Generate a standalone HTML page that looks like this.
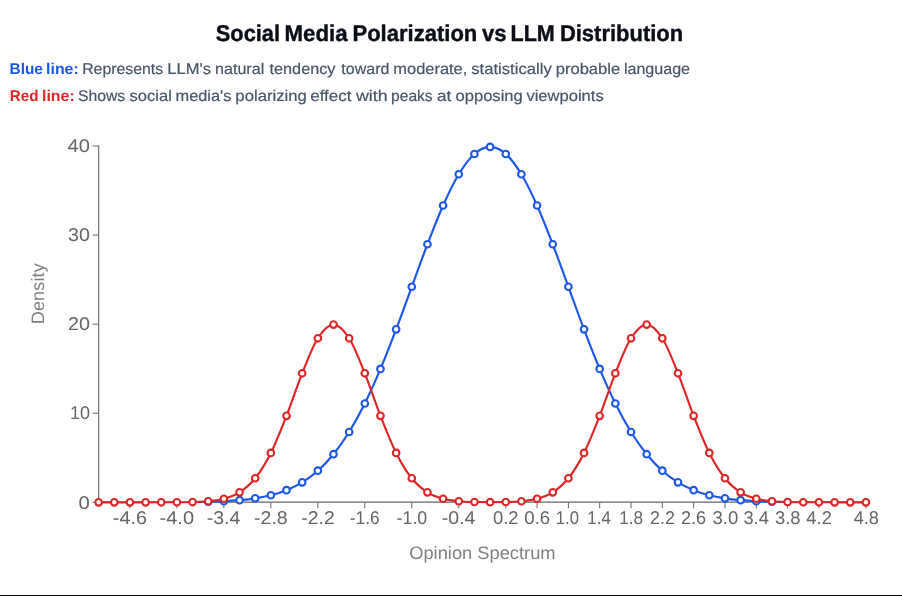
<!DOCTYPE html>
<html><head><meta charset="utf-8"><title>Social Media Polarization vs LLM Distribution</title>
<style>
html,body{margin:0;padding:0;background:#fff;}
body{width:902px;height:596px;overflow:hidden;position:relative;font-family:"Liberation Sans",sans-serif;}
svg{position:absolute;left:0;top:0;will-change:transform;}
text{font-family:"Liberation Sans",sans-serif;text-rendering:geometricPrecision;}
.ttl{font-size:22.75px;font-weight:bold;fill:#0b0d17;stroke:#0b0d17;stroke-width:0.4px;}
.lb{font-size:15.5px;font-weight:bold;}
.lt{font-size:15.5px;fill:#475467;stroke:#475467;stroke-width:0.2px;}
.tk{font-size:18.5px;fill:#666;}
.al{font-size:18px;fill:#808080;}
.bar{position:absolute;left:0;top:595px;width:902px;height:1px;background:#000;}
</style></head>
<body>
<svg width="902" height="596" viewBox="0 0 902 596">
<text x="215.84" y="40.6" class="ttl" textLength="64.13" lengthAdjust="spacingAndGlyphs">Social</text><text x="284.59" y="40.6" class="ttl" textLength="63.08" lengthAdjust="spacingAndGlyphs">Media</text><text x="352.48" y="40.6" class="ttl" textLength="124.86" lengthAdjust="spacingAndGlyphs">Polarization</text><text x="482.03" y="40.6" class="ttl" textLength="24.62" lengthAdjust="spacingAndGlyphs">vs</text><text x="510.59" y="40.6" class="ttl" textLength="44.20" lengthAdjust="spacingAndGlyphs">LLM</text><text x="559.89" y="40.6" class="ttl" textLength="123.31" lengthAdjust="spacingAndGlyphs">Distribution</text>
<text x="9.52" y="73.8" class="lb" fill="#1c58e7" textLength="33.41" lengthAdjust="spacingAndGlyphs">Blue</text><text x="46.09" y="73.8" class="lb" fill="#1c58e7" textLength="32.67" lengthAdjust="spacingAndGlyphs">line:</text>
<text x="82.18" y="73.8" class="lt" textLength="80.88" lengthAdjust="spacingAndGlyphs">Represents</text><text x="167.36" y="73.8" class="lt" textLength="43.73" lengthAdjust="spacingAndGlyphs">LLM's</text><text x="215.05" y="73.8" class="lt" textLength="49.17" lengthAdjust="spacingAndGlyphs">natural</text><text x="269.54" y="73.8" class="lt" textLength="65.94" lengthAdjust="spacingAndGlyphs">tendency</text><text x="341.38" y="73.8" class="lt" textLength="48.03" lengthAdjust="spacingAndGlyphs">toward</text><text x="393.39" y="73.8" class="lt" textLength="73.93" lengthAdjust="spacingAndGlyphs">moderate,</text><text x="471.17" y="73.8" class="lt" textLength="80.72" lengthAdjust="spacingAndGlyphs">statistically</text><text x="555.74" y="73.8" class="lt" textLength="64.39" lengthAdjust="spacingAndGlyphs">probable</text><text x="623.93" y="73.8" class="lt" textLength="66.14" lengthAdjust="spacingAndGlyphs">language</text>
<text x="9.84" y="100.6" class="lb" fill="#dc2626" textLength="28.72" lengthAdjust="spacingAndGlyphs">Red</text><text x="41.97" y="100.6" class="lb" fill="#dc2626" textLength="32.79" lengthAdjust="spacingAndGlyphs">line:</text>
<text x="77.90" y="100.6" class="lt" textLength="47.33" lengthAdjust="spacingAndGlyphs">Shows</text><text x="129.58" y="100.6" class="lt" textLength="42.25" lengthAdjust="spacingAndGlyphs">social</text><text x="175.52" y="100.6" class="lt" textLength="55.92" lengthAdjust="spacingAndGlyphs">media's</text><text x="235.35" y="100.6" class="lt" textLength="71.59" lengthAdjust="spacingAndGlyphs">polarizing</text><text x="310.31" y="100.6" class="lt" textLength="41.08" lengthAdjust="spacingAndGlyphs">effect</text><text x="355.98" y="100.6" class="lt" textLength="31.71" lengthAdjust="spacingAndGlyphs">with</text><text x="391.09" y="100.6" class="lt" textLength="41.57" lengthAdjust="spacingAndGlyphs">peaks</text><text x="437.06" y="100.6" class="lt" textLength="14.16" lengthAdjust="spacingAndGlyphs">at</text><text x="455.45" y="100.6" class="lt" textLength="67.38" lengthAdjust="spacingAndGlyphs">opposing</text><text x="526.40" y="100.6" class="lt" textLength="77.28" lengthAdjust="spacingAndGlyphs">viewpoints</text>
<line x1="98.60" y1="502.1" x2="865.90" y2="502.1" stroke="#666" stroke-width="1.1"/>
<line x1="98.67" y1="145.50" x2="98.67" y2="502.1" stroke="#666" stroke-width="1.1"/>
<line x1="92.60" y1="502.30" x2="98.60" y2="502.30" stroke="#666"/>
<text x="78.54" y="508.50" class="tk" textLength="11.32" lengthAdjust="spacingAndGlyphs">0</text>
<line x1="92.60" y1="413.23" x2="98.60" y2="413.23" stroke="#666"/>
<text x="69.89" y="419.43" class="tk" textLength="20.03" lengthAdjust="spacingAndGlyphs">10</text>
<line x1="92.60" y1="324.15" x2="98.60" y2="324.15" stroke="#666"/>
<text x="68.03" y="330.35" class="tk" textLength="21.92" lengthAdjust="spacingAndGlyphs">20</text>
<line x1="92.60" y1="235.07" x2="98.60" y2="235.07" stroke="#666"/>
<text x="68.03" y="241.27" class="tk" textLength="21.79" lengthAdjust="spacingAndGlyphs">30</text>
<line x1="92.60" y1="146.00" x2="98.60" y2="146.00" stroke="#666"/>
<text x="67.47" y="152.20" class="tk" textLength="22.33" lengthAdjust="spacingAndGlyphs">40</text>
<line x1="129.92" y1="502.30" x2="129.92" y2="508.30" stroke="#666"/>
<text x="112.84" y="523.90" class="tk" textLength="34.17" lengthAdjust="spacingAndGlyphs">-4.6</text>
<line x1="176.90" y1="502.30" x2="176.90" y2="508.30" stroke="#666"/>
<text x="159.54" y="523.90" class="tk" textLength="34.50" lengthAdjust="spacingAndGlyphs">-4.0</text>
<line x1="223.87" y1="502.30" x2="223.87" y2="508.30" stroke="#666"/>
<text x="206.71" y="523.90" class="tk" textLength="33.71" lengthAdjust="spacingAndGlyphs">-3.4</text>
<line x1="270.85" y1="502.30" x2="270.85" y2="508.30" stroke="#666"/>
<text x="254.05" y="523.90" class="tk" textLength="33.63" lengthAdjust="spacingAndGlyphs">-2.8</text>
<line x1="317.83" y1="502.30" x2="317.83" y2="508.30" stroke="#666"/>
<text x="301.27" y="523.90" class="tk" textLength="33.52" lengthAdjust="spacingAndGlyphs">-2.2</text>
<line x1="364.81" y1="502.30" x2="364.81" y2="508.30" stroke="#666"/>
<text x="349.76" y="523.90" class="tk" textLength="29.88" lengthAdjust="spacingAndGlyphs">-1.6</text>
<line x1="411.78" y1="502.30" x2="411.78" y2="508.30" stroke="#666"/>
<text x="396.57" y="523.90" class="tk" textLength="30.69" lengthAdjust="spacingAndGlyphs">-1.0</text>
<line x1="458.76" y1="502.30" x2="458.76" y2="508.30" stroke="#666"/>
<text x="441.71" y="523.90" class="tk" textLength="33.71" lengthAdjust="spacingAndGlyphs">-0.4</text>
<line x1="505.74" y1="502.30" x2="505.74" y2="508.30" stroke="#666"/>
<text x="493.01" y="523.90" class="tk" textLength="25.56" lengthAdjust="spacingAndGlyphs">0.2</text>
<line x1="537.06" y1="502.30" x2="537.06" y2="508.30" stroke="#666"/>
<text x="524.27" y="523.90" class="tk" textLength="25.92" lengthAdjust="spacingAndGlyphs">0.6</text>
<line x1="568.38" y1="502.30" x2="568.38" y2="508.30" stroke="#666"/>
<text x="555.76" y="523.90" class="tk" textLength="23.29" lengthAdjust="spacingAndGlyphs">1.0</text>
<line x1="599.69" y1="502.30" x2="599.69" y2="508.30" stroke="#666"/>
<text x="587.33" y="523.90" class="tk" textLength="23.51" lengthAdjust="spacingAndGlyphs">1.4</text>
<line x1="631.01" y1="502.30" x2="631.01" y2="508.30" stroke="#666"/>
<text x="619.31" y="523.90" class="tk" textLength="23.80" lengthAdjust="spacingAndGlyphs">1.8</text>
<line x1="662.33" y1="502.30" x2="662.33" y2="508.30" stroke="#666"/>
<text x="649.98" y="523.90" class="tk" textLength="24.90" lengthAdjust="spacingAndGlyphs">2.2</text>
<line x1="693.65" y1="502.30" x2="693.65" y2="508.30" stroke="#666"/>
<text x="680.98" y="523.90" class="tk" textLength="25.22" lengthAdjust="spacingAndGlyphs">2.6</text>
<line x1="724.97" y1="502.30" x2="724.97" y2="508.30" stroke="#666"/>
<text x="712.48" y="523.90" class="tk" textLength="25.78" lengthAdjust="spacingAndGlyphs">3.0</text>
<line x1="756.29" y1="502.30" x2="756.29" y2="508.30" stroke="#666"/>
<text x="743.41" y="523.90" class="tk" textLength="25.45" lengthAdjust="spacingAndGlyphs">3.4</text>
<line x1="787.60" y1="502.30" x2="787.60" y2="508.30" stroke="#666"/>
<text x="775.03" y="523.90" class="tk" textLength="25.53" lengthAdjust="spacingAndGlyphs">3.8</text>
<line x1="818.92" y1="502.30" x2="818.92" y2="508.30" stroke="#666"/>
<text x="806.37" y="523.90" class="tk" textLength="25.50" lengthAdjust="spacingAndGlyphs">4.2</text>
<line x1="865.90" y1="502.30" x2="865.90" y2="508.30" stroke="#666"/>
<text x="853.71" y="523.90" class="tk" textLength="25.25" lengthAdjust="spacingAndGlyphs">4.8</text>
<text x="482.4" y="559.1" text-anchor="middle" class="al" textLength="146.4" lengthAdjust="spacingAndGlyphs">Opinion Spectrum</text>
<text transform="translate(43.8,324.2) rotate(-90)" class="al" letter-spacing="0.15">Density</text>
<clipPath id="cb"><rect x="192.56" y="0" width="595.05" height="600"/></clipPath>
<path d="M98.60,502.30C103.82,502.30,109.04,502.30,114.26,502.30C119.48,502.30,124.70,502.29,129.92,502.29C135.14,502.29,140.36,502.29,145.58,502.28C150.80,502.27,156.02,502.26,161.24,502.25C166.46,502.23,171.68,502.22,176.90,502.18C182.12,502.15,187.34,502.11,192.56,502.04C197.77,501.97,202.99,501.89,208.21,501.75C213.43,501.62,218.65,501.47,223.87,501.20C229.09,500.94,234.31,500.65,239.53,500.18C244.75,499.70,249.97,499.17,255.19,498.35C260.41,497.53,265.63,496.61,270.85,495.25C276.07,493.89,281.29,492.35,286.51,490.20C291.73,488.05,296.95,485.60,302.17,482.35C307.39,479.10,312.61,475.39,317.83,470.70C323.05,466.01,328.27,460.66,333.49,454.21C338.71,447.75,343.93,440.43,349.15,431.98C354.37,423.52,359.59,414.01,364.81,403.50C370.03,392.99,375.25,381.29,380.47,368.93C385.69,356.57,390.90,343.02,396.12,329.33C401.34,315.64,406.56,300.94,411.78,286.77C417.00,272.59,422.22,257.81,427.44,244.26C432.66,230.71,437.88,217.15,443.10,205.48C448.32,193.82,453.54,182.85,458.76,174.27C463.98,165.68,469.20,158.53,474.42,153.98C479.64,149.43,484.86,146.94,490.08,146.94C495.30,146.94,500.52,149.43,505.74,153.98C510.96,158.53,516.18,165.68,521.40,174.27C526.62,182.85,531.84,193.82,537.06,205.48C542.28,217.15,547.50,230.71,552.72,244.26C557.94,257.81,563.16,272.59,568.38,286.77C573.60,300.94,578.81,315.64,584.03,329.33C589.25,343.02,594.47,356.57,599.69,368.93C604.91,381.29,610.13,392.99,615.35,403.50C620.57,414.01,625.79,423.52,631.01,431.98C636.23,440.43,641.45,447.75,646.67,454.21C651.89,460.66,657.11,466.01,662.33,470.70C667.55,475.39,672.77,479.10,677.99,482.35C683.21,485.60,688.43,488.05,693.65,490.20C698.87,492.35,704.09,493.89,709.31,495.25C714.53,496.61,719.75,497.53,724.97,498.35C730.19,499.17,735.41,499.70,740.63,500.18C745.85,500.65,751.07,500.94,756.29,501.20C761.51,501.47,766.73,501.62,771.94,501.75C777.16,501.89,782.38,501.97,787.60,502.04C792.82,502.11,798.04,502.15,803.26,502.18C808.48,502.22,813.70,502.23,818.92,502.25C824.14,502.26,829.36,502.27,834.58,502.28C839.80,502.29,845.02,502.29,850.24,502.29C855.46,502.29,860.68,502.30,865.90,502.30" fill="none" stroke="#1c58e7" stroke-width="2.15" clip-path="url(#cb)"/>
<circle cx="208.21" cy="501.75" r="3.3" fill="#fff" stroke="#1c58e7" stroke-width="2.1"/>
<circle cx="223.87" cy="501.20" r="3.3" fill="#fff" stroke="#1c58e7" stroke-width="2.1"/>
<circle cx="239.53" cy="500.18" r="3.3" fill="#fff" stroke="#1c58e7" stroke-width="2.1"/>
<circle cx="255.19" cy="498.35" r="3.3" fill="#fff" stroke="#1c58e7" stroke-width="2.1"/>
<circle cx="270.85" cy="495.25" r="3.3" fill="#fff" stroke="#1c58e7" stroke-width="2.1"/>
<circle cx="286.51" cy="490.20" r="3.3" fill="#fff" stroke="#1c58e7" stroke-width="2.1"/>
<circle cx="302.17" cy="482.35" r="3.3" fill="#fff" stroke="#1c58e7" stroke-width="2.1"/>
<circle cx="317.83" cy="470.70" r="3.3" fill="#fff" stroke="#1c58e7" stroke-width="2.1"/>
<circle cx="333.49" cy="454.21" r="3.3" fill="#fff" stroke="#1c58e7" stroke-width="2.1"/>
<circle cx="349.15" cy="431.98" r="3.3" fill="#fff" stroke="#1c58e7" stroke-width="2.1"/>
<circle cx="364.81" cy="403.50" r="3.3" fill="#fff" stroke="#1c58e7" stroke-width="2.1"/>
<circle cx="380.47" cy="368.93" r="3.3" fill="#fff" stroke="#1c58e7" stroke-width="2.1"/>
<circle cx="396.12" cy="329.33" r="3.3" fill="#fff" stroke="#1c58e7" stroke-width="2.1"/>
<circle cx="411.78" cy="286.77" r="3.3" fill="#fff" stroke="#1c58e7" stroke-width="2.1"/>
<circle cx="427.44" cy="244.26" r="3.3" fill="#fff" stroke="#1c58e7" stroke-width="2.1"/>
<circle cx="443.10" cy="205.48" r="3.3" fill="#fff" stroke="#1c58e7" stroke-width="2.1"/>
<circle cx="458.76" cy="174.27" r="3.3" fill="#fff" stroke="#1c58e7" stroke-width="2.1"/>
<circle cx="474.42" cy="153.98" r="3.3" fill="#fff" stroke="#1c58e7" stroke-width="2.1"/>
<circle cx="490.08" cy="146.94" r="3.3" fill="#fff" stroke="#1c58e7" stroke-width="2.1"/>
<circle cx="505.74" cy="153.98" r="3.3" fill="#fff" stroke="#1c58e7" stroke-width="2.1"/>
<circle cx="521.40" cy="174.27" r="3.3" fill="#fff" stroke="#1c58e7" stroke-width="2.1"/>
<circle cx="537.06" cy="205.48" r="3.3" fill="#fff" stroke="#1c58e7" stroke-width="2.1"/>
<circle cx="552.72" cy="244.26" r="3.3" fill="#fff" stroke="#1c58e7" stroke-width="2.1"/>
<circle cx="568.38" cy="286.77" r="3.3" fill="#fff" stroke="#1c58e7" stroke-width="2.1"/>
<circle cx="584.03" cy="329.33" r="3.3" fill="#fff" stroke="#1c58e7" stroke-width="2.1"/>
<circle cx="599.69" cy="368.93" r="3.3" fill="#fff" stroke="#1c58e7" stroke-width="2.1"/>
<circle cx="615.35" cy="403.50" r="3.3" fill="#fff" stroke="#1c58e7" stroke-width="2.1"/>
<circle cx="631.01" cy="431.98" r="3.3" fill="#fff" stroke="#1c58e7" stroke-width="2.1"/>
<circle cx="646.67" cy="454.21" r="3.3" fill="#fff" stroke="#1c58e7" stroke-width="2.1"/>
<circle cx="662.33" cy="470.70" r="3.3" fill="#fff" stroke="#1c58e7" stroke-width="2.1"/>
<circle cx="677.99" cy="482.35" r="3.3" fill="#fff" stroke="#1c58e7" stroke-width="2.1"/>
<circle cx="693.65" cy="490.20" r="3.3" fill="#fff" stroke="#1c58e7" stroke-width="2.1"/>
<circle cx="709.31" cy="495.25" r="3.3" fill="#fff" stroke="#1c58e7" stroke-width="2.1"/>
<circle cx="724.97" cy="498.35" r="3.3" fill="#fff" stroke="#1c58e7" stroke-width="2.1"/>
<circle cx="740.63" cy="500.18" r="3.3" fill="#fff" stroke="#1c58e7" stroke-width="2.1"/>
<circle cx="756.29" cy="501.20" r="3.3" fill="#fff" stroke="#1c58e7" stroke-width="2.1"/>
<circle cx="771.94" cy="501.75" r="3.3" fill="#fff" stroke="#1c58e7" stroke-width="2.1"/>
<path d="M98.60,502.30C103.82,502.30,109.04,502.30,114.26,502.30C119.48,502.30,124.70,502.30,129.92,502.30C135.14,502.30,140.36,502.30,145.58,502.30C150.80,502.30,156.02,502.30,161.24,502.29C166.46,502.28,171.68,502.27,176.90,502.24C182.12,502.21,187.34,502.17,192.56,502.03C197.77,501.89,202.99,501.76,208.21,501.24C213.43,500.71,218.65,500.26,223.87,498.77C229.09,497.29,234.31,495.75,239.53,492.33C244.75,488.91,249.97,484.83,255.19,478.25C260.41,471.68,265.63,463.31,270.85,452.90C276.07,442.49,281.29,429.08,286.51,415.81C291.73,402.54,296.95,386.20,302.17,373.28C307.39,360.36,312.61,346.39,317.83,338.28C323.05,330.17,328.27,324.62,333.49,324.62C338.71,324.62,343.93,330.17,349.15,338.28C354.37,346.39,359.59,360.36,364.81,373.28C370.03,386.20,375.25,402.54,380.47,415.81C385.69,429.08,390.90,442.49,396.12,452.90C401.34,463.31,406.56,471.68,411.78,478.25C417.00,484.83,422.22,488.91,427.44,492.33C432.66,495.75,437.88,497.29,443.10,498.77C448.32,500.26,453.54,500.72,458.76,501.24C463.98,501.76,469.20,501.91,474.42,502.02C479.64,502.13,484.86,502.18,490.08,502.18C495.30,502.18,500.52,502.13,505.74,502.02C510.96,501.91,516.18,501.76,521.40,501.24C526.62,500.72,531.84,500.26,537.06,498.77C542.28,497.29,547.50,495.75,552.72,492.33C557.94,488.91,563.16,484.83,568.38,478.25C573.60,471.68,578.81,463.31,584.03,452.90C589.25,442.49,594.47,429.08,599.69,415.81C604.91,402.54,610.13,386.20,615.35,373.28C620.57,360.36,625.79,346.39,631.01,338.28C636.23,330.17,641.45,324.62,646.67,324.62C651.89,324.62,657.11,330.17,662.33,338.28C667.55,346.39,672.77,360.36,677.99,373.28C683.21,386.20,688.43,402.54,693.65,415.81C698.87,429.08,704.09,442.49,709.31,452.90C714.53,463.31,719.75,471.68,724.97,478.25C730.19,484.83,735.41,488.91,740.63,492.33C745.85,495.75,751.07,497.29,756.29,498.77C761.51,500.26,766.73,500.71,771.94,501.24C777.16,501.76,782.38,501.89,787.60,502.03C792.82,502.17,798.04,502.21,803.26,502.24C808.48,502.27,813.70,502.28,818.92,502.29C824.14,502.30,829.36,502.30,834.58,502.30C839.80,502.30,845.02,502.30,850.24,502.30C855.46,502.30,860.68,502.30,865.90,502.30" fill="none" stroke="#dc2626" stroke-width="2.15"/>
<circle cx="98.60" cy="502.30" r="3.3" fill="#fff" stroke="#dc2626" stroke-width="2.1"/>
<circle cx="114.26" cy="502.30" r="3.3" fill="#fff" stroke="#dc2626" stroke-width="2.1"/>
<circle cx="129.92" cy="502.30" r="3.3" fill="#fff" stroke="#dc2626" stroke-width="2.1"/>
<circle cx="145.58" cy="502.30" r="3.3" fill="#fff" stroke="#dc2626" stroke-width="2.1"/>
<circle cx="161.24" cy="502.29" r="3.3" fill="#fff" stroke="#dc2626" stroke-width="2.1"/>
<circle cx="176.90" cy="502.24" r="3.3" fill="#fff" stroke="#dc2626" stroke-width="2.1"/>
<circle cx="192.56" cy="502.03" r="3.3" fill="#fff" stroke="#dc2626" stroke-width="2.1"/>
<circle cx="208.21" cy="501.24" r="3.3" fill="#fff" stroke="#dc2626" stroke-width="2.1"/>
<circle cx="223.87" cy="498.77" r="3.3" fill="#fff" stroke="#dc2626" stroke-width="2.1"/>
<circle cx="239.53" cy="492.33" r="3.3" fill="#fff" stroke="#dc2626" stroke-width="2.1"/>
<circle cx="255.19" cy="478.25" r="3.3" fill="#fff" stroke="#dc2626" stroke-width="2.1"/>
<circle cx="270.85" cy="452.90" r="3.3" fill="#fff" stroke="#dc2626" stroke-width="2.1"/>
<circle cx="286.51" cy="415.81" r="3.3" fill="#fff" stroke="#dc2626" stroke-width="2.1"/>
<circle cx="302.17" cy="373.28" r="3.3" fill="#fff" stroke="#dc2626" stroke-width="2.1"/>
<circle cx="317.83" cy="338.28" r="3.3" fill="#fff" stroke="#dc2626" stroke-width="2.1"/>
<circle cx="333.49" cy="324.62" r="3.3" fill="#fff" stroke="#dc2626" stroke-width="2.1"/>
<circle cx="349.15" cy="338.28" r="3.3" fill="#fff" stroke="#dc2626" stroke-width="2.1"/>
<circle cx="364.81" cy="373.28" r="3.3" fill="#fff" stroke="#dc2626" stroke-width="2.1"/>
<circle cx="380.47" cy="415.81" r="3.3" fill="#fff" stroke="#dc2626" stroke-width="2.1"/>
<circle cx="396.12" cy="452.90" r="3.3" fill="#fff" stroke="#dc2626" stroke-width="2.1"/>
<circle cx="411.78" cy="478.25" r="3.3" fill="#fff" stroke="#dc2626" stroke-width="2.1"/>
<circle cx="427.44" cy="492.33" r="3.3" fill="#fff" stroke="#dc2626" stroke-width="2.1"/>
<circle cx="443.10" cy="498.77" r="3.3" fill="#fff" stroke="#dc2626" stroke-width="2.1"/>
<circle cx="458.76" cy="501.24" r="3.3" fill="#fff" stroke="#dc2626" stroke-width="2.1"/>
<circle cx="474.42" cy="502.02" r="3.3" fill="#fff" stroke="#dc2626" stroke-width="2.1"/>
<circle cx="490.08" cy="502.18" r="3.3" fill="#fff" stroke="#dc2626" stroke-width="2.1"/>
<circle cx="505.74" cy="502.02" r="3.3" fill="#fff" stroke="#dc2626" stroke-width="2.1"/>
<circle cx="521.40" cy="501.24" r="3.3" fill="#fff" stroke="#dc2626" stroke-width="2.1"/>
<circle cx="537.06" cy="498.77" r="3.3" fill="#fff" stroke="#dc2626" stroke-width="2.1"/>
<circle cx="552.72" cy="492.33" r="3.3" fill="#fff" stroke="#dc2626" stroke-width="2.1"/>
<circle cx="568.38" cy="478.25" r="3.3" fill="#fff" stroke="#dc2626" stroke-width="2.1"/>
<circle cx="584.03" cy="452.90" r="3.3" fill="#fff" stroke="#dc2626" stroke-width="2.1"/>
<circle cx="599.69" cy="415.81" r="3.3" fill="#fff" stroke="#dc2626" stroke-width="2.1"/>
<circle cx="615.35" cy="373.28" r="3.3" fill="#fff" stroke="#dc2626" stroke-width="2.1"/>
<circle cx="631.01" cy="338.28" r="3.3" fill="#fff" stroke="#dc2626" stroke-width="2.1"/>
<circle cx="646.67" cy="324.62" r="3.3" fill="#fff" stroke="#dc2626" stroke-width="2.1"/>
<circle cx="662.33" cy="338.28" r="3.3" fill="#fff" stroke="#dc2626" stroke-width="2.1"/>
<circle cx="677.99" cy="373.28" r="3.3" fill="#fff" stroke="#dc2626" stroke-width="2.1"/>
<circle cx="693.65" cy="415.81" r="3.3" fill="#fff" stroke="#dc2626" stroke-width="2.1"/>
<circle cx="709.31" cy="452.90" r="3.3" fill="#fff" stroke="#dc2626" stroke-width="2.1"/>
<circle cx="724.97" cy="478.25" r="3.3" fill="#fff" stroke="#dc2626" stroke-width="2.1"/>
<circle cx="740.63" cy="492.33" r="3.3" fill="#fff" stroke="#dc2626" stroke-width="2.1"/>
<circle cx="756.29" cy="498.77" r="3.3" fill="#fff" stroke="#dc2626" stroke-width="2.1"/>
<circle cx="771.94" cy="501.24" r="3.3" fill="#fff" stroke="#dc2626" stroke-width="2.1"/>
<circle cx="787.60" cy="502.03" r="3.3" fill="#fff" stroke="#dc2626" stroke-width="2.1"/>
<circle cx="803.26" cy="502.24" r="3.3" fill="#fff" stroke="#dc2626" stroke-width="2.1"/>
<circle cx="818.92" cy="502.29" r="3.3" fill="#fff" stroke="#dc2626" stroke-width="2.1"/>
<circle cx="834.58" cy="502.30" r="3.3" fill="#fff" stroke="#dc2626" stroke-width="2.1"/>
<circle cx="850.24" cy="502.30" r="3.3" fill="#fff" stroke="#dc2626" stroke-width="2.1"/>
<circle cx="865.90" cy="502.30" r="3.3" fill="#fff" stroke="#dc2626" stroke-width="2.1"/>
</svg>
<div class="bar"></div>
</body></html>
